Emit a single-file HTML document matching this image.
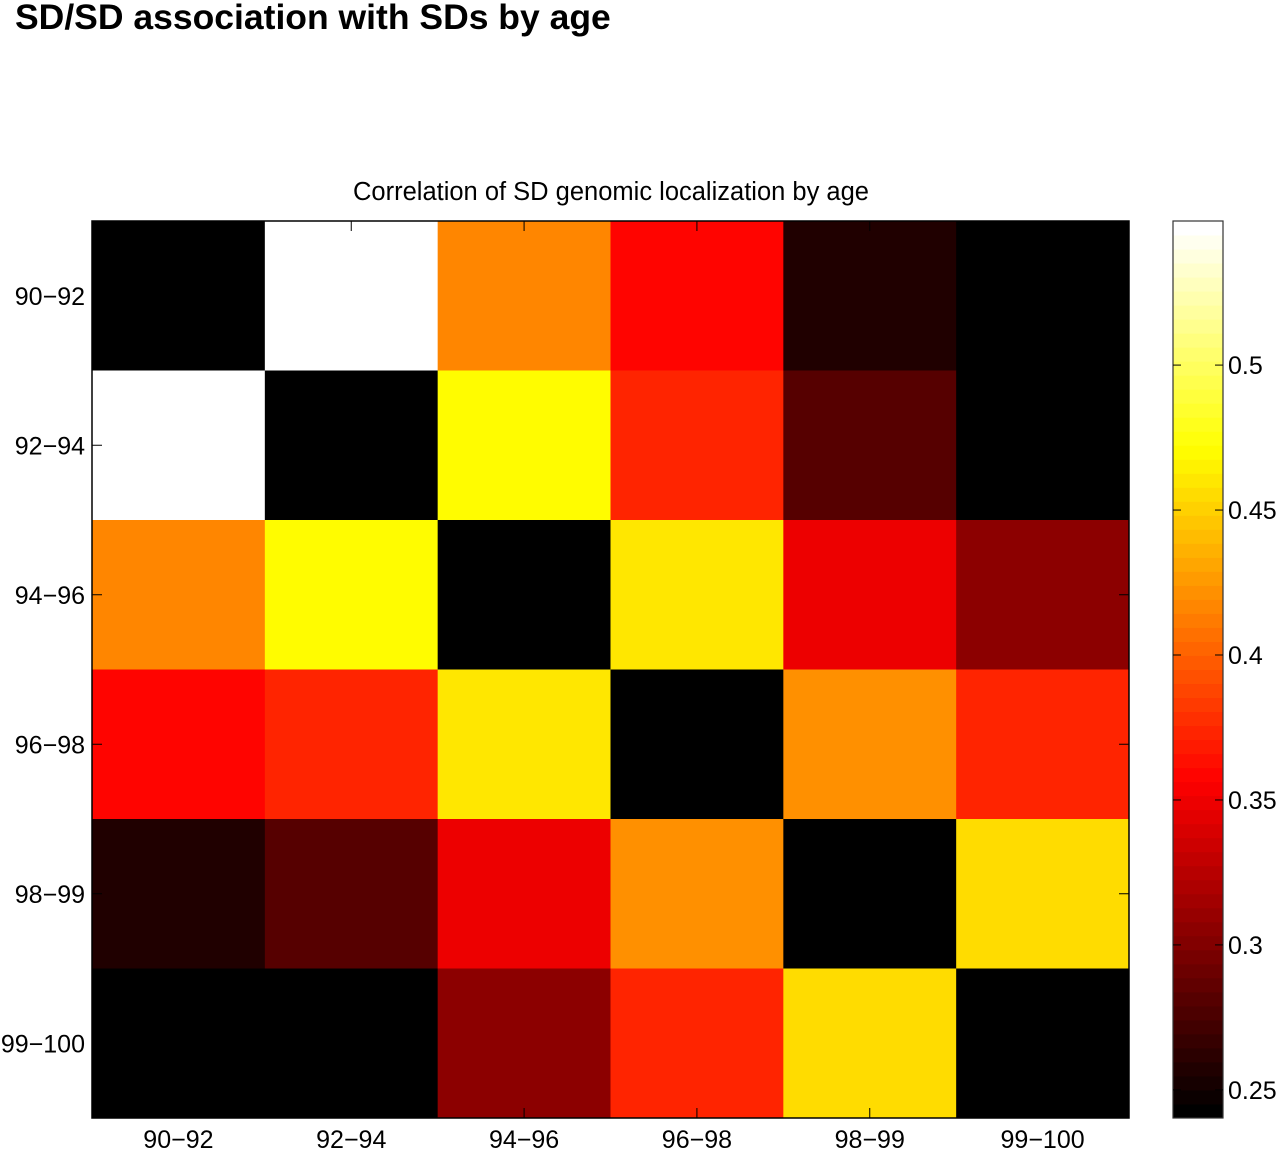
<!DOCTYPE html>
<html><head><meta charset="utf-8"><style>
body{margin:0;background:#fff;width:1280px;height:1150px;overflow:hidden}
svg text{font-family:"Liberation Sans",Arial,sans-serif}
</style></head><body>
<svg id="chart" width="1280" height="1150">
<text x="15" y="29" font-size="35.5" font-weight="bold">SD/SD association with SDs by age</text>
<text x="611" y="200" font-size="25.5" text-anchor="middle">Correlation of SD genomic localization by age</text>
<g id="cells"></g><g id="axes"></g><g id="cbar"></g>
</svg>
<script>
const categories=["90\u221292","92\u221294","94\u221296","96\u221298","98\u221299","99\u2212100"];
const row0=[0.240,0.550,0.419,0.357,0.257,0.243];
const row1=[0.550,0.242,0.470,0.375,0.279,0.243];
const row2=[0.419,0.470,0.242,0.460,0.350,0.305];
const row3=[0.357,0.375,0.460,0.242,0.424,0.375];
const row4=[0.257,0.279,0.350,0.424,0.242,0.454];
const row5=[0.243,0.243,0.305,0.375,0.454,0.242];
const cbarTicks=[0.25,0.3,0.35,0.4,0.45,0.5];
const vmin=0.2403,vmax=0.5497;
const rows=[row0,row1,row2,row3,row4,row5];
const NS="http://www.w3.org/2000/svg";
const L=92,R=1129,T=221,B=1118;
const cw=(R-L)/categories.length,ch=(B-T)/categories.length;
function hot(v){let t=(v-vmin)/(vmax-vmin);t=Math.max(0,Math.min(1,t));t=Math.min(63,Math.floor(t*64))/63;
 const r=Math.min(1,t/0.375),g=Math.max(0,Math.min(1,(t-0.375)/0.375)),b=Math.max(0,Math.min(1,(t-0.75)/0.25));
 return `rgb(${Math.round(r*255)},${Math.round(g*255)},${Math.round(b*255)})`;}
function mk(tag,attrs,parent){const e=document.createElementNS(NS,tag);for(const k in attrs)e.setAttribute(k,attrs[k]);parent.appendChild(e);return e;}
const xS=i=>L+i*cw, yS=i=>T+i*ch;
const cells=document.getElementById('cells');
rows.forEach((row,i)=>row.forEach((v,j)=>{
 const r=mk('rect',{x:xS(j),y:yS(i),width:cw+0.5,height:ch+0.5,fill:hot(v)},cells);
 
 
}));
const ax=document.getElementById('axes');
const fr=mk('rect',{x:L,y:T,width:R-L,height:B-T,fill:'none',stroke:'#000','stroke-width':1.5},ax);


categories.forEach((c,i)=>{
 const cx=xS(i)+cw/2,cy=yS(i)+ch/2;
 mk('line',{x1:cx,x2:cx,y1:B,y2:B-10,stroke:'#000'},ax);
 mk('line',{x1:cx,x2:cx,y1:T,y2:T+10,stroke:'#000'},ax);
 mk('line',{x1:L,x2:L+10,y1:cy,y2:cy,stroke:'#000'},ax);
 mk('line',{x1:R,x2:R-10,y1:cy,y2:cy,stroke:'#000'},ax);
 const tx=mk('text',{x:cx,y:1148,'font-size':25,'text-anchor':'middle'},ax);tx.textContent=c;
 
 
 const ty=mk('text',{x:85,y:cy+9,'font-size':25,'text-anchor':'end'},ax);ty.textContent=c;
 
 
});
const cb=document.getElementById('cbar');
const CL=1173,CR=1223;
const cy=v=>B-(v-vmin)/(vmax-vmin)*(B-T);
for(let k=0;k<64;k++){const v0=vmin+k*(vmax-vmin)/64,v1=vmin+(k+1)*(vmax-vmin)/64;
 mk('rect',{x:CL,y:cy(v1),width:CR-CL,height:cy(v0)-cy(v1)+0.5,fill:hot((v0+v1)/2)},cb);}
const cf=mk('rect',{x:CL,y:T,width:CR-CL,height:B-T,fill:'none',stroke:'#333','stroke-width':1.2},cb);


cbarTicks.forEach(v=>{const y=cy(v);
 mk('line',{x1:CL,x2:CL+8,y1:y,y2:y,stroke:'#000'},cb);
 mk('line',{x1:CR,x2:CR-8,y1:y,y2:y,stroke:'#000'},cb);
 const t=mk('text',{x:1228,y:y+9,'font-size':25},cb);t.textContent=String(v);
 
 
});
</script>
</body></html>
